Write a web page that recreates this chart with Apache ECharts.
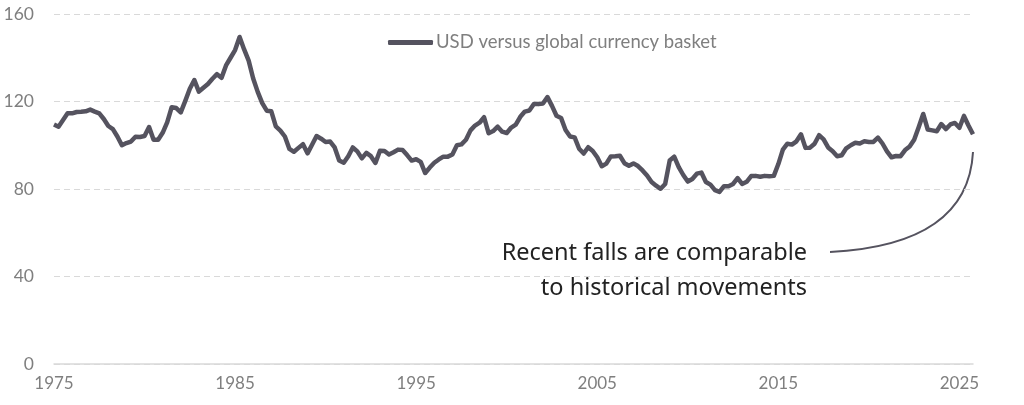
<!DOCTYPE html>
<html>
<head>
<meta charset="utf-8">
<script src="https://cdn.jsdelivr.net/npm/echarts@6/dist/echarts.min.js"></script>
<style>
    html, body { margin: 0; padding: 0; background: #fff; }
    #usdChart { width: 1024px; height: 405px; }
</style>
</head>
<body>
<div id="usdChart"></div>
<script>
// Quarterly readings, 1975 Q1 onwards
const usdIndex = [
    109.5, 108.5, 111.5, 114.6, 114.6, 115.2, 115.3, 115.5, 116.3, 115.4,
    114.6, 112.0, 108.8, 107.4, 104.0, 100.0, 101.0, 101.7, 103.9, 103.8,
    104.2, 108.3, 102.5, 102.5, 105.7, 110.5, 117.4, 117.0, 115.0, 120.3,
    125.8, 129.8, 124.5, 126.3, 128.0, 130.4, 132.5, 130.8, 136.5, 140.0,
    143.5, 149.5, 143.8, 138.7, 130.5, 124.4, 119.3, 115.8, 115.5, 108.6,
    106.7, 104.0, 98.3, 97.0, 98.8, 100.5, 96.3, 100.2, 104.2, 103.0,
    101.5, 101.7, 99.0, 93.0, 92.0, 95.0, 99.0, 97.2, 94.0, 96.5,
    95.0, 91.9, 97.5, 97.4, 95.8, 96.8, 98.0, 97.8, 95.5, 93.0,
    93.6, 92.4, 87.3, 89.8, 92.0, 93.5, 94.8, 94.8, 95.8, 100.0,
    100.4, 102.5, 106.8, 109.0, 110.3, 112.8, 105.5, 106.5, 108.5, 106.2,
    105.6, 108.1, 109.4, 113.0, 115.4, 115.9, 118.9, 118.8, 119.1, 122.0,
    118.0, 113.5, 112.5, 107.0, 104.0, 103.6, 98.4, 96.2, 99.1, 97.4,
    94.5, 90.4, 91.6, 94.9, 95.0, 95.2, 91.8, 90.6, 91.7, 90.5,
    88.5, 86.2, 83.2, 81.5, 80.1, 82.3, 93.0, 94.8, 90.0, 86.4,
    83.4, 84.6, 87.0, 87.5, 83.2, 82.0, 79.5, 78.7, 81.3, 81.3,
    82.3, 85.0, 82.3, 83.3, 85.9, 86.0, 85.6, 86.0, 85.8, 86.0,
    91.4, 98.0, 100.7, 100.3, 101.8, 105.0, 98.8, 98.9, 100.7, 104.6,
    102.7, 99.0, 97.3, 95.0, 95.4, 98.6, 100.0, 101.1, 100.8, 101.8,
    101.5, 101.5, 103.5, 100.8, 97.2, 94.5, 95.1, 95.0, 97.8, 99.4,
    102.5, 108.2, 114.3, 107.2, 106.8, 106.4, 109.7, 107.4, 109.5, 110.2,
    108.0, 113.4, 109.0, 105.0
];

const quarters = [];
for (let y = 1975; quarters.length < usdIndex.length; y++) {
    for (let q = 1; q <= 4 && quarters.length < usdIndex.length; q++) {
        quarters.push(y + 'Q' + q);
    }
}

const tickYears = ['1975', '1985', '1995', '2005', '2015', '2025'];
const yTicks = [0, 40, 80, 120, 160];
const seriesName = 'USD versus global currency basket';
const noteLines = ['Recent falls are comparable', 'to historical movements'];

const lineColor = '#55535f';
const labelColor = '#7f7f7f';

const chartDom = document.getElementById('usdChart');
const myChart = echarts.init(chartDom);

const options = {
    animation: false,
    grid: { left: 54, right: 51, top: 14, bottom: 41 },
    legend: {
        show: true,
        left: 383,
        top: 28,
        icon: 'roundRect',
        itemWidth: 45,
        itemHeight: 5,
        itemGap: 0,
        textStyle: {
            fontFamily: 'Lato, sans-serif',
            fontSize: 18.5,
            color: labelColor,
            padding: [0, 0, 0, -2]
        },
        data: [seriesName]
    },
    xAxis: {
        type: 'category',
        boundaryGap: false,
        data: quarters,
        axisLine: { show: true, lineStyle: { color: '#d9d9d9', width: 1.5 } },
        axisTick: { show: false },
        axisLabel: {
            interval: (idx, val) => val.endsWith('Q1') && tickYears.includes(val.slice(0, 4)),
            formatter: val => val.slice(0, 4),
            margin: 11,
            fontFamily: 'Lato, sans-serif',
            fontSize: 17,
            color: labelColor
        },
        splitLine: { show: false }
    },
    yAxis: {
        type: 'value',
        min: yTicks[0],
        max: yTicks[yTicks.length - 1],
        interval: 40,
        axisLine: { show: false },
        axisTick: { show: false },
        axisLabel: {
            margin: 20,
            fontFamily: 'Lato, sans-serif',
            fontSize: 17.5,
            color: labelColor
        },
        splitLine: {
            show: true,
            lineStyle: { color: '#d9d9d9', type: [6, 4], width: 1 }
        }
    },
    graphic: {
        elements: [
            {
                type: 'text',
                right: 1024 - 807,
                top: 236,
                style: {
                    text: noteLines.join('\n'),
                    textAlign: 'right',
                    fontFamily: 'Noto Sans, sans-serif',
                    fontSize: 23.5,
                    lineHeight: 35,
                    fill: '#222'
                }
            },
            {
                type: 'bezierCurve',
                shape: { x1: 830, y1: 252, cpx1: 968, cpy1: 245, x2: 973, y2: 152 },
                style: { stroke: lineColor, lineWidth: 2, fill: null }
            }
        ]
    },
    series: [
        {
            name: seriesName,
            type: 'line',
            data: usdIndex,
            showSymbol: false,
            symbol: 'none',
            smooth: false,
            lineStyle: { color: lineColor, width: 4.5, join: 'round' },
            itemStyle: { color: lineColor }
        }
    ]
};

myChart.setOption(options, true);
</script>
</body>
</html>
